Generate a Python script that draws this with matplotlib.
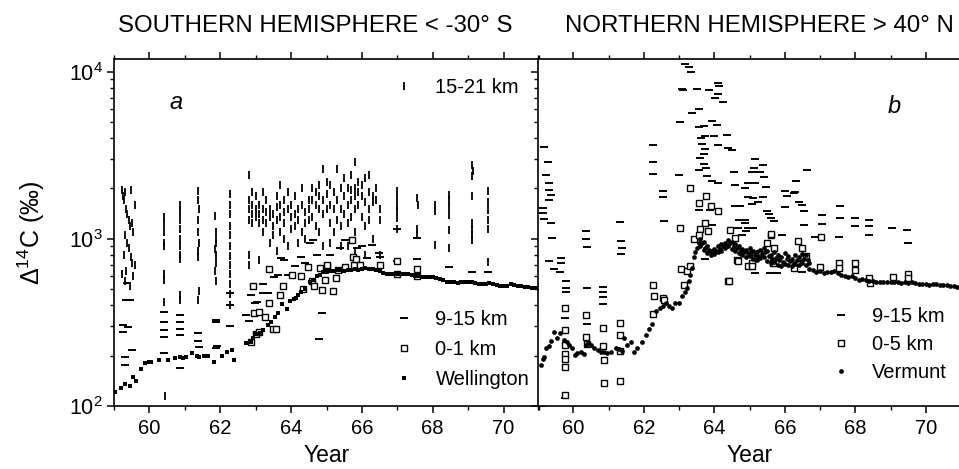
import matplotlib
matplotlib.use("Agg")
import matplotlib.pyplot as plt
from matplotlib.lines import Line2D
from matplotlib.ticker import LogLocator, FixedLocator, NullFormatter

plt.rcParams['font.family'] = ['Liberation Sans', 'DejaVu Sans']
plt.rcParams['mathtext.fontset'] = 'custom'
plt.rcParams['mathtext.rm'] = 'Liberation Sans'
plt.rcParams['mathtext.it'] = 'Liberation Sans:italic'

# ---------------- Southern hemisphere (panel a) ----------------
sh_strat_year = [59.22, 59.25, 59.28, 59.32, 59.35, 59.38, 59.42, 59.45, 59.48, 59.52, 59.55, 59.30, 59.36, 59.42,
                 59.27, 59.47, 59.52, 59.35, 59.22, 59.55, 59.30, 59.45, 59.58, 59.58,
                 60.41, 60.42, 60.41, 60.42, 60.41, 60.42, 60.41, 60.42, 60.43,
                 60.85, 60.86, 60.85, 60.86, 60.85, 60.86, 60.85, 60.86, 60.85, 60.86,
                 61.38, 61.38, 61.39, 61.38, 61.38, 61.39, 61.38, 61.38, 61.39, 61.38,
                 61.86, 61.87, 61.88, 61.87, 61.86, 61.88, 61.87, 61.86, 61.87,
                 62.27, 62.27, 62.28, 62.27, 62.27, 62.28, 62.27, 62.27, 62.28, 62.27, 62.27, 62.27,
                 62.80, 62.80, 62.80, 62.80, 62.80, 62.80, 62.90, 62.90, 62.90, 62.90, 63.00, 63.00, 63.00,
                 63.10, 63.10, 63.10, 63.10, 63.20, 63.20, 63.20, 63.20, 63.30, 63.30, 63.30,
                 63.40, 63.40, 63.40, 63.50, 63.50, 63.50, 63.60, 63.60, 63.60, 63.60,
                 63.70, 63.70, 63.70, 63.70, 63.80, 63.80, 63.80, 63.80, 63.90, 63.90, 63.90,
                 64.00, 64.00, 64.00, 64.10, 64.10, 64.10, 64.20, 64.20, 64.20, 64.30, 64.30, 64.30,
                 64.40, 64.40, 64.40, 64.50, 64.50, 64.50, 64.60, 64.60, 64.60, 64.70, 64.70, 64.70,
                 64.80, 64.80, 64.80, 64.80, 64.90, 64.90, 64.90, 64.90, 65.00, 65.00, 65.00,
                 65.10, 65.10, 65.10, 65.10, 65.20, 65.20, 65.20, 65.30, 65.30, 65.30,
                 65.40, 65.40, 65.40, 65.40, 65.50, 65.50, 65.50, 65.60, 65.60, 65.60, 65.60,
                 65.70, 65.70, 65.70, 65.70, 65.80, 65.80, 65.80, 65.80, 65.80, 65.80,
                 65.90, 65.90, 65.90, 66.00, 66.00, 66.00, 66.10, 66.10, 66.10, 66.10,
                 66.20, 66.20, 66.20, 66.20, 66.30, 66.30, 66.30, 66.40, 66.40, 66.50, 66.50, 66.50,
                 66.99, 66.99, 66.99, 66.99, 67.00, 66.98,
                 67.56, 67.57, 67.56, 67.56,
                 68.05, 68.05, 68.05,
                 68.46, 68.46, 68.46, 68.46, 68.46, 68.46,
                 69.12, 69.13, 69.12, 69.12, 69.12, 69.12, 69.12, 69.12,
                 69.55, 69.55, 69.56, 69.55, 69.55, 69.55]
sh_strat_val = [1950, 1800, 1700, 1900, 1500, 1400, 1300, 1200, 1960, 1250, 1100, 1050, 950, 880,
                800, 780, 720, 640, 620, 600, 560, 520, 700, 1600,
                1350, 1220, 1100, 950, 900, 620, 570, 420, 114,
                1600, 1450, 1300, 1150, 1000, 900, 800, 760, 460, 430,
                1930, 1700, 1500, 1300, 1100, 950, 850, 780, 490, 430,
                1370, 1100, 1000, 950, 870, 800, 720, 640, 560,
                1850, 1600, 1400, 1200, 1050, 900, 790, 700, 620, 540, 470, 400,
                2400, 1700, 1500, 1300, 800, 700, 1900, 1600, 1400, 1250, 1500, 1350, 1800,
                1600, 1400, 1250, 750, 1900, 1500, 1300, 1100, 1700, 1450, 1250,
                1500, 1350, 950, 1400, 1200, 1050, 1800, 1550, 1300, 850,
                2100, 1600, 1350, 1100, 1700, 1450, 1250, 1000, 1900, 1500, 900,
                1600, 1350, 1150, 1800, 1400, 1200, 1500, 1300, 950, 2000, 1600, 1100,
                1450, 1250, 1000, 1700, 1500, 1300, 2000, 1700, 1350, 1900, 1600, 1200,
                2100, 1800, 1500, 1100, 2600, 1700, 1400, 900, 2200, 1850, 1500,
                2100, 1600, 1250, 950, 1900, 1500, 1100, 2600, 1700, 1300,
                2000, 1500, 1200, 900, 2300, 1800, 1400, 2000, 1600, 1250, 900,
                2400, 1950, 1700, 1350, 2900, 2000, 1800, 1500, 1100, 850,
                2200, 1900, 1600, 2100, 1800, 1350, 2300, 1650, 1200, 800,
                2400, 1900, 1500, 1300, 1800, 1650, 1000, 2000, 1700, 1500, 1300, 800,
                1920, 1750, 1570, 1460, 1330, 1150,
                1750, 1590, 1150, 1060,
                1590, 1460, 920,
                1840, 1700, 1560, 1390, 1130, 880,
                2780, 2540, 2360, 1800, 1240, 1150, 1060, 990,
                1920, 1670, 1490, 1300, 1150, 730]

sh_trop_year = [59.38, 59.35, 59.45, 59.25, 59.25, 59.40, 59.50, 59.30, 59.30,
                60.40, 60.40, 60.40, 60.40, 60.40,
                60.85, 60.85, 60.85, 60.85, 60.85,
                61.38, 61.38, 61.40, 61.87, 61.87, 61.87, 61.90,
                62.27, 62.27, 62.27,
                62.73, 62.82, 62.86, 62.99, 63.05, 63.20, 63.20, 63.34, 63.53, 63.62, 63.72, 63.81,
                63.90, 64.10, 64.29, 64.38, 64.52, 64.62, 64.72, 64.86, 64.79, 65.09, 65.38, 65.52,
                65.85, 66.00, 66.14, 66.28, 66.47, 66.52, 67.00, 67.00, 67.56, 67.56, 68.46, 69.12, 69.55]
sh_trop_val = [543, 430, 428, 306, 279, 297, 216, 197, 176,
               367, 320, 285, 260, 207,
               350, 320, 288, 266, 168,
               272, 246, 225, 327, 316, 221, 230,
               473, 402, 299,
               350, 324, 462, 412, 421, 538, 473, 473, 594, 609, 765, 750,
               609, 690, 780, 720, 943, 986, 800, 359, 251, 801, 879, 986,
               879, 900, 765, 921, 820, 783, 1150, 741, 1010, 759, 676, 629, 629]

sh_surf_year = [62.93, 62.96, 63.09, 63.26, 63.37, 63.01, 63.08, 63.48, 63.58, 62.87, 63.39, 63.69, 63.77,
                64.03, 64.27, 64.34, 64.48, 64.59, 64.64, 64.88, 64.81, 65.00, 65.19, 64.95, 65.26,
                65.02, 65.33, 65.52, 65.71, 65.74, 65.78, 65.83, 65.95, 66.50, 66.99, 66.99, 67.56, 67.56]
sh_surf_val = [523, 359, 364, 340, 412, 270, 279, 289, 288, 240, 658, 460, 519,
               609, 603, 500, 676, 556, 519, 496, 667, 689, 490, 569, 582,
               698, 652, 676, 986, 783, 698, 755, 698, 698, 741, 617, 658, 603]

wellington_year = [59.03, 59.19, 59.30, 59.45, 59.54, 59.62, 59.77, 59.87, 59.98, 60.05, 60.28, 60.53, 60.72,
                   60.85, 60.95, 61.04, 61.21, 61.35, 61.40, 61.54, 61.64, 61.81, 61.90, 62.06, 62.20,
                   62.33, 62.40, 62.73, 62.87, 62.92, 63.01, 63.11, 63.22, 63.34, 63.44, 63.55, 63.64,
                   63.74, 63.88, 63.96, 64.07, 64.13, 64.19, 64.29, 64.38, 64.52, 64.62, 64.73, 64.81,
                   64.90, 65.00, 65.10, 65.20, 65.30, 65.40, 65.50, 65.60, 65.70, 65.80, 65.90, 66.00,
                   66.10, 66.20, 66.30, 66.40, 66.50, 66.60, 66.70, 66.80, 66.90, 67.00, 67.10, 67.20,
                   67.30, 67.40, 67.50, 67.60, 67.70, 67.80, 67.90, 68.00, 68.10, 68.20, 68.30, 68.40,
                   68.50, 68.60, 68.70, 68.80, 68.90, 69.00, 69.10, 69.20, 69.30, 69.40, 69.50, 69.60,
                   69.70, 69.80, 69.90, 70.00, 70.10, 70.20, 70.30, 70.40, 70.50, 70.60, 70.70, 70.80,
                   70.90, 71.00]
wellington_val = [122, 128, 135, 132, 150, 142, 167, 180, 184, 184, 188, 188, 195,
                  197, 195, 196, 207, 199, 196, 199, 199, 184, 225, 199, 211,
                  216, 188, 237, 243, 254, 270, 275, 285, 306, 316, 339, 359,
                  408, 380, 427, 436, 440, 463, 478, 500, 550, 569, 596, 610,
                  630, 635, 640, 645, 650, 655, 640, 648, 652, 660, 655, 662,
                  665, 658, 660, 650, 640, 628, 620, 618, 612, 615, 618, 612,
                  615, 608, 600, 598, 595, 590, 592, 595, 585, 575, 565, 555,
                  552, 548, 545, 548, 550, 552, 548, 545, 540, 535, 538, 545,
                  535, 528, 522, 520, 525, 535, 528, 522, 520, 515, 512, 508,
                  505, 500]

# ---------------- Northern hemisphere (panel b) ----------------
nh_trop_year = [59.18, 59.27, 59.23, 59.30, 59.32, 59.37, 59.32, 59.13, 59.13, 59.18, 59.37, 59.41,
                59.32, 59.46, 59.65, 59.65, 59.62, 59.79, 59.79, 59.79, 59.76, 59.76,
                60.36, 60.36, 60.38, 60.38, 60.38, 61.33, 61.35, 61.37, 61.35,
                60.85, 60.85, 60.85, 60.85,
                62.26, 62.26, 62.26, 62.54, 62.54, 62.57,
                63.04, 63.01, 63.09, 63.18, 63.27, 63.35, 63.11, 63.51, 63.37, 63.56, 63.56, 63.70,
                63.84, 64.10, 64.14, 64.12, 64.03, 64.26, 63.93, 64.07, 63.73, 64.00, 64.36, 64.12,
                64.39, 64.50, 63.63, 63.65, 63.75, 63.70, 63.60, 63.70, 63.78, 63.58, 63.80, 63.95,
                64.10, 63.58, 63.87, 63.93, 64.59, 64.55, 64.86, 64.73, 64.70, 64.86, 64.86, 64.90,
                65.16, 65.14, 65.06, 65.30, 65.39, 65.42, 64.97, 65.16, 65.48, 64.97, 65.11, 65.25,
                65.39, 65.06, 65.11, 65.16, 65.50, 65.55, 65.60, 65.70,
                66.02, 66.31, 66.64, 66.29, 66.05, 66.02, 66.26, 66.40, 66.50, 66.54, 66.54,
                67.06, 67.06, 67.58, 67.58, 68.00, 68.38, 68.38, 69.04, 69.46,
                68.00, 68.38, 69.49, 66.87, 67.53, 65.93, 65.79, 66.50,
                63.75, 65.58, 64.59, 64.68, 64.78, 64.97]
nh_trop_val = [3524, 2864, 2393, 2152, 1965, 1833, 1713, 1527, 1425, 1312, 1242, 1009,
               738, 661, 773, 714, 631, 556, 507, 480, 335, 111,
               1107, 1000, 888, 507, 308, 1254, 964, 879, 809,
               512, 480, 446, 406,
               3658, 2877, 2439, 1919, 1770, 1283,
               5003, 2393, 7908, 11120, 10620, 9950, 7800, 7908, 5650, 5998, 4645, 4709,
               7800, 8551, 8166, 7347, 6950, 6580, 5095, 4773, 4105, 4105, 4200, 3658,
               3490, 3413, 4010, 3690, 3459, 3214, 3041, 2797, 2648, 2588, 2361, 2203,
               2153, 1493, 1493, 1213, 2104, 2506, 2010, 1563, 1300, 1242, 1300, 1117,
               3013, 2648, 2506, 2506, 2774, 2340, 2153, 2170, 2050, 1790, 1750, 1670,
               1770, 1614, 1159, 622, 1470, 1400, 1330, 1270,
               1945, 2203, 2566, 1900, 1800, 1543, 1880, 1670, 1600, 1460, 1213,
               1393, 1230, 1563, 1331, 1331, 1300, 1186, 1159, 1132,
               1200, 1047, 942, 1023, 1023, 1058, 622, 629,
               759, 622, 1563, 1160, 1058, 1159]

nh_surf_year = [59.76, 59.76, 59.76, 59.76, 59.76, 59.76, 59.76, 60.36, 60.36, 60.40, 60.83, 60.83, 60.86,
                60.86, 61.34, 61.34, 61.34, 61.34, 62.26, 62.29, 62.26, 62.54, 62.57,
                63.04, 63.07, 63.13, 63.23, 63.32, 63.30, 63.58, 63.77, 63.92, 64.10, 63.73, 63.60,
                63.42, 63.56, 63.82, 64.45, 64.39, 64.59, 64.64, 64.97, 65.06, 65.16, 65.61, 65.68,
                65.60, 66.38, 66.50, 65.51, 65.69, 65.27, 65.08, 64.66, 64.41, 66.26, 66.59, 67.04,
                67.01, 67.53, 67.53, 68.00, 67.98, 68.38, 68.43, 69.06, 69.49, 69.51]
nh_surf_val = [385, 285, 232, 204, 191, 170, 117, 348, 260, 234, 294, 227, 188,
               137, 313, 266, 213, 141, 531, 452, 354, 442, 430,
               1159, 661, 531, 643, 692, 2009, 1636, 1807, 1563, 1459, 1242, 1148,
               1000, 1057, 1107, 1128, 556, 1018, 748, 683, 714, 802, 1057, 714,
               1072, 964, 879, 942, 879, 820, 689, 741, 556, 667, 791, 1023,
               677, 714, 667, 721, 652, 581, 543, 594, 617, 581]

vermunt_year = [59.08, 59.13, 59.18, 59.23, 59.30, 59.37, 59.46, 59.53, 59.62, 59.74, 59.81, 59.89, 59.96,
                60.05, 60.12, 60.21, 60.31, 60.36, 60.43, 60.50, 60.59, 60.69, 60.78, 60.87, 60.97,
                61.06, 61.20, 61.30, 61.37, 61.44, 61.53, 61.63, 61.72, 61.82, 61.94, 62.05, 62.16,
                62.24, 62.35, 62.45, 62.54, 62.62, 62.71, 62.79, 62.88, 63.01, 63.09, 63.16, 63.23,
                63.27, 63.32, 63.37, 63.42, 63.46, 63.51, 63.56,
                63.60, 63.60, 63.70, 63.70, 63.80, 63.80, 63.90, 63.90, 64.00, 64.00, 64.10, 64.10,
                64.20, 64.20, 64.30, 64.30, 64.40, 64.40, 64.50, 64.50, 64.60, 64.60, 64.70, 64.70,
                64.80, 64.80, 64.90, 64.90, 65.00, 65.00, 65.10, 65.10, 65.20, 65.20, 65.30, 65.30,
                65.40, 65.40, 65.50, 65.50, 65.60, 65.60, 65.70, 65.70, 65.80, 65.80, 65.90, 65.90,
                66.00, 66.00, 66.10, 66.10, 66.20, 66.20, 66.30, 66.30, 66.40, 66.40, 66.50, 66.50,
                66.60, 66.60, 66.70, 66.70, 66.80, 66.90, 67.00, 67.10, 67.20, 67.30, 67.40, 67.50,
                67.60, 67.70, 67.80, 67.90, 68.00, 68.10, 68.20, 68.30, 68.40, 68.50, 68.60, 68.70,
                68.80, 68.90, 69.00, 69.10, 69.20, 69.30, 69.40, 69.50, 69.60, 69.70, 69.80, 69.90,
                70.00, 70.10, 70.20, 70.30, 70.40, 70.50, 70.60, 70.70, 70.80, 70.90, 71.00,
                63.65, 63.75, 63.85, 63.95, 64.05, 64.15, 64.25, 64.35, 64.45, 64.55, 64.65, 64.75,
                64.85, 64.95, 65.05, 65.15, 65.25, 65.35, 65.45, 65.55, 65.65, 65.75, 65.85, 65.95,
                66.05, 66.15, 66.25, 66.35, 66.45, 66.55, 66.65]
vermunt_val = [176, 191, 197, 221, 230, 245, 279, 254, 272, 248, 240, 232, 221,
               202, 207, 210, 204, 232, 237, 232, 223, 216, 210, 211, 207,
               211, 223, 219, 213, 254, 232, 243, 209, 221, 243, 266, 289,
               308, 371, 384, 399, 412, 399, 384, 412, 412, 452, 480, 507,
               556, 609, 667, 783, 832, 879, 943,
               1000, 900, 960, 860, 900, 820, 850, 800, 870, 810, 900, 830,
               930, 850, 950, 880, 980, 900, 960, 870, 930, 840, 900, 820,
               870, 800, 860, 780, 880, 790, 850, 760, 830, 750, 860, 770,
               880, 780, 840, 740, 800, 720, 830, 730, 800, 700, 780, 690,
               820, 710, 790, 700, 760, 690, 800, 710, 780, 700, 810, 720,
               800, 700, 720, 660, 650, 630, 640, 625, 630, 635, 640, 625,
               610, 600, 590, 600, 580, 570, 575, 565, 560, 560, 555, 552,
               550, 555, 550, 548, 552, 545, 548, 545, 550, 545, 540, 538,
               535, 530, 535, 538, 532, 528, 530, 525, 520, 518, 515,
               940, 880, 860, 830, 840, 870, 900, 920, 940, 910, 880, 860,
               830, 820, 830, 800, 790, 810, 830, 790, 760, 770, 750, 730,
               760, 740, 720, 750, 740, 760, 750]

year_ticks = [60, 62, 64, 66, 68, 70]
year_tick_labels = ['60', '62', '64', '66', '68', '70']

# ---------------- figure ----------------
W, H = 959, 469
fig = plt.figure(figsize=(W / 100, H / 100), dpi=100)
axL = fig.add_axes([114 / W, 1 - 406 / H, 425 / W, 347 / H])
axR = fig.add_axes([538 / W, 1 - 406 / H, 423 / W, 347 / H])

dash_h = dict(ls='none', marker='_', ms=5.4, mew=1.4, color='black')
dash_v = dict(ls='none', marker='|', ms=5.4, mew=1.3, color='black')
sq_open = dict(ls='none', marker='s', ms=4.4, mew=1.0, mfc='white', mec='black')
sq_fill = dict(ls='none', marker='s', ms=3.4, mew=0.0, color='black')
dot = dict(ls='none', marker='o', ms=3.4, mew=0.0, color='black')

# panel a
axL.plot(sh_strat_year, sh_strat_val, **dash_v)
axL.plot(sh_trop_year, sh_trop_val, **dash_h)
axL.plot(sh_surf_year, sh_surf_val, **sq_open)
axL.plot(wellington_year, wellington_val, **sq_fill)

# panel b
axR.plot(nh_trop_year, nh_trop_val, **dash_h)
axR.plot(nh_surf_year, nh_surf_val, **sq_open)
axR.plot(vermunt_year, vermunt_val, **dot)

for ax in (axL, axR):
    ax.set_yscale('log')
    ax.set_xlim(59.0, 71.0)
    ax.set_ylim(100, 11900)
    ax.xaxis.set_major_locator(FixedLocator(year_ticks))
    ax.xaxis.set_minor_locator(FixedLocator([59, 61, 63, 65, 67, 69, 71]))
    ax.set_xticklabels(year_tick_labels)
    ax.yaxis.set_major_locator(LogLocator(base=10, numticks=10))
    ax.yaxis.set_minor_locator(LogLocator(base=10, subs=[2, 3, 4, 5, 6, 7, 8, 9], numticks=10))
    ax.yaxis.set_minor_formatter(NullFormatter())
    ax.tick_params(which='major', direction='out', length=5, width=1.1, labelsize=14.5, pad=4)
    ax.tick_params(which='minor', direction='out', length=3, width=1.0)
    ax.tick_params(axis='y', which='major', labelsize=15.5, pad=3)
    for s in ax.spines.values():
        s.set_linewidth(1.2)
    ax.set_xlabel('Year', fontsize=16.5, labelpad=5)

axL.tick_params(which='both', top=True, right=True, left=True, bottom=True)
axL.set_yticks([100, 1000, 10000])
axL.set_yticklabels(['$10^{2}$', '$10^{3}$', '$10^{4}$'])
axL.set_ylabel('Δ$^{14}$C (‰)', fontsize=18, labelpad=16)

axR.tick_params(which='both', top=True, right=False, left=True, bottom=True, labelleft=False)
axR.spines['right'].set_visible(False)

# titles and panel letters
fig.text(315 / W, 1 - 26 / H, 'SOUTHERN HEMISPHERE < -30° S', ha='center', va='center', fontsize=17.3)
fig.text(759 / W, 1 - 26 / H, 'NORTHERN HEMISPHERE > 40° N', ha='center', va='center', fontsize=17.3)
axL.text(0.146, 0.876, 'a', transform=axL.transAxes, ha='center', va='center', fontsize=17, style='italic')
axR.text(0.841, 0.862, 'b', transform=axR.transAxes, ha='center', va='center', fontsize=17, style='italic')

# legends
h_v = Line2D([], [], **dash_v)
h_h = Line2D([], [], **dash_h)
h_so = Line2D([], [], **sq_open)
h_sf = Line2D([], [], **sq_fill)
h_d = Line2D([], [], **dot)

legA1 = axL.legend([h_v], ['15-21 km'], loc='upper left', bbox_to_anchor=(0.664, 0.945),
                   frameon=False, fontsize=14.5, handlelength=0.8, handletextpad=1.15,
                   borderpad=0, borderaxespad=0)
axL.add_artist(legA1)
axL.legend([h_h, h_so, h_sf], ['9-15 km', '0-1 km', 'Wellington'], loc='upper left',
           bbox_to_anchor=(0.664, 0.277), frameon=False, fontsize=14.5, handlelength=0.8,
           handletextpad=1.15, labelspacing=0.55, borderpad=0, borderaxespad=0)
axR.legend([h_h, h_so, h_d], ['9-15 km', '0-5 km', 'Vermunt'], loc='upper left',
           bbox_to_anchor=(0.698, 0.285), frameon=False, fontsize=14.5, handlelength=0.8,
           handletextpad=1.1, labelspacing=0.45, borderpad=0, borderaxespad=0)

fig.savefig('out.png', dpi=100)
